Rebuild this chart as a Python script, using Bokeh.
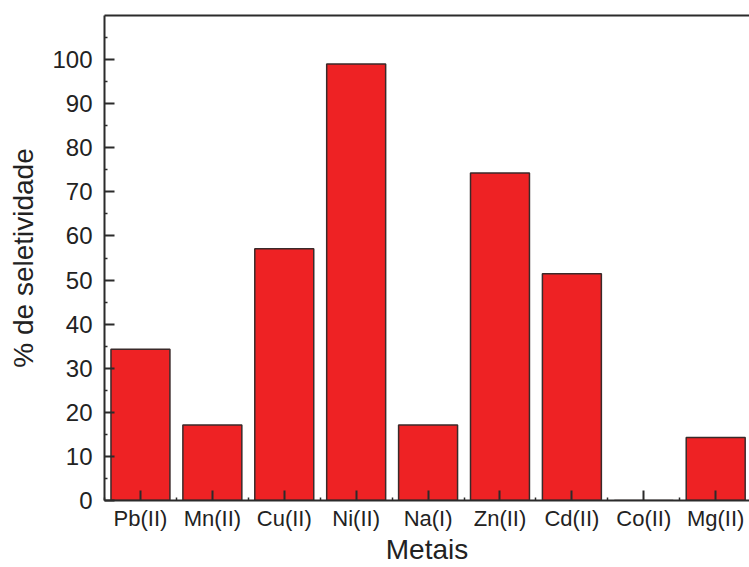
from bokeh.plotting import figure
from bokeh.models import LinearAxis, FixedTicker, Range1d, ColumnDataSource
from bokeh.embed import file_html
from bokeh.resources import INLINE

metais = ["Pb(II)", "Mn(II)", "Cu(II)", "Ni(II)", "Na(I)", "Zn(II)", "Cd(II)", "Co(II)", "Mg(II)"]
seletividade = [34.3, 17.1, 57.1, 99.0, 17.1, 74.3, 51.4, 0.0, 14.3]
y_ticks = [0, 10, 20, 30, 40, 50, 60, 70, 80, 90, 100]
y_minor = [5, 15, 25, 35, 45, 55, 65, 75, 85, 95, 105]

positions = list(range(1, len(metais) + 1))
src = ColumnDataSource(dict(x=positions, top=seletividade, name=metais))

FONT = "Liberation Sans"
AX = "#2b2b2b"

p = figure(width=749, height=567, output_backend="svg", toolbar_location=None,
           x_range=Range1d(0.5, 9.47), y_range=Range1d(0, 110),
           min_border_left=104, min_border_top=15, min_border_right=0, min_border_bottom=67)
p.grid.visible = False
p.outline_line_color = None
p.background_fill_color = "white"
p.border_fill_color = "white"

p.vbar(x="x", top="top", bottom=0, width=0.82, source=src,
       fill_color="#ee2224", line_color="#3a2a2a", line_width=1.5)

xa = p.xaxis[0]
xa.ticker = FixedTicker(ticks=positions, minor_ticks=[i + 0.5 for i in range(0, 10)])
xa.major_label_overrides = {i: n for i, n in zip(positions, metais)}
xa.axis_label = "Metais"
ya = p.yaxis[0]
ya.ticker = FixedTicker(ticks=y_ticks, minor_ticks=y_minor)
ya.axis_label = "% de seletividade"

for ax in (xa, ya):
    ax.axis_line_color = AX
    ax.axis_line_width = 2
    ax.major_tick_line_color = AX
    ax.minor_tick_line_color = AX
    ax.major_tick_line_width = 2
    ax.minor_tick_line_width = 1.5
    ax.major_tick_in = 10
    ax.major_tick_out = 0
    ax.minor_tick_in = 3
    ax.minor_tick_out = 0
    ax.major_label_text_font = FONT
    ax.major_label_text_color = "#222222"
    ax.axis_label_text_font = FONT
    ax.axis_label_text_font_style = "normal"
    ax.axis_label_text_color = "#222222"

xa.major_label_text_font_size = "22px"
ya.major_label_text_font_size = "24px"
xa.axis_label_text_font_size = "28px"
ya.axis_label_text_font_size = "28px"
xa.major_label_standoff = 5
xa.axis_label_standoff = 0
ya.major_label_standoff = 12
ya.axis_label_standoff = 10

top = LinearAxis(ticker=FixedTicker(ticks=[]), axis_line_color=AX, axis_line_width=2,
                 major_tick_in=0, major_tick_out=0, minor_tick_in=0, minor_tick_out=0,
                 major_label_text_font_size="0px", major_label_standoff=0)
p.add_layout(top, "above")

open("out.html", "w").write(file_html(p, INLINE))
